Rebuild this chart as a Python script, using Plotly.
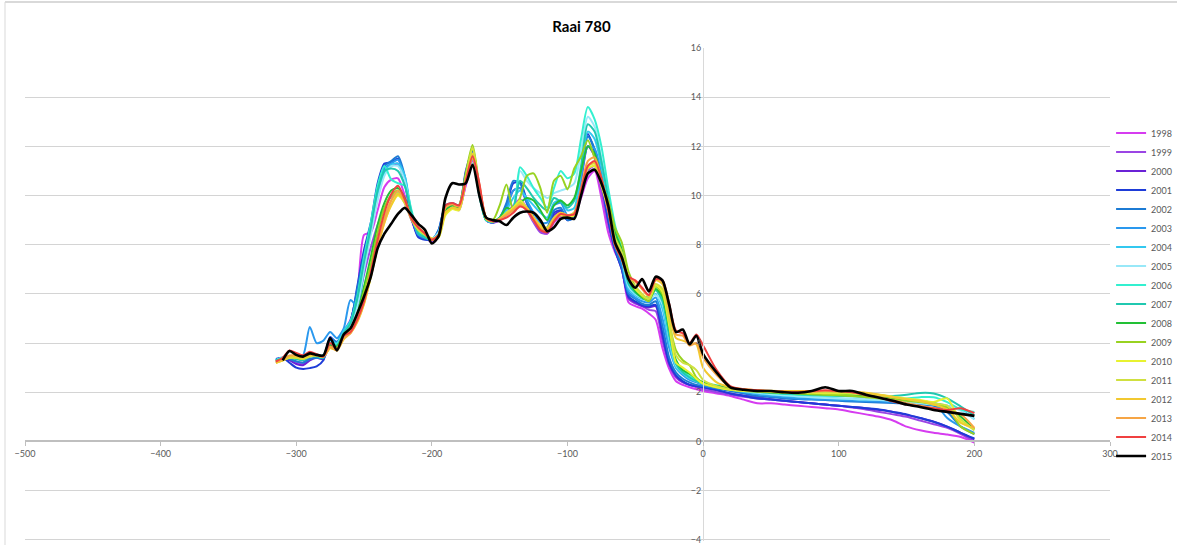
import plotly.graph_objects as go

# Shared distance positions (m)
x_pos = [-315, -310, -305, -300, -295, -290, -285, -280, -275, -270, -265, -260,
         -255, -250, -245, -240, -235, -230, -225, -220, -215, -210, -205, -200,
         -195, -190, -185, -180, -175, -170, -165, -160, -155, -150, -145, -140,
         -135, -130, -125, -120, -115, -110, -105, -100, -95, -90, -85, -80,
         -75, -70, -65, -60, -55, -50, -45, -40, -35, -30, -25, -20,
         -15, -10, -5, 0, 10, 20, 30, 40, 50, 60, 70, 80, 90, 100, 110, 120,
         130, 140, 150, 160, 170, 180, 190, 200]

years = ["1998", "1999", "2000", "2001", "2002", "2003", "2004", "2005", "2006",
         "2007", "2008", "2009", "2010", "2011", "2012", "2013", "2014", "2015"]

colors = ["#D63CF0", "#9B45E4", "#6A22D6", "#1E3CD8", "#1C7BD4", "#2A98EE",
          "#32C8F0", "#98E8F8", "#33F0D0", "#20C8B0", "#22C035", "#98D220",
          "#E8F230", "#D0E040", "#F2C830", "#F6A545", "#F04040", "#000000"]

y1998 = [3.2, 3.35, 3.4, 3.2, 3.15, 3.45, 3.5, 3.4, 3.85, 3.8, 4.45, 4.95,
         6.0, 8.4, 8.5, 9.4, 10.35, 10.65, 10.7, 10.0, 9.0, 8.4, 8.3, 8.1,
         8.45, 9.4, 9.6, 9.5, 10.4, 11.4, 10.3, 9.0, 8.9, 9.0, 9.3, 9.6,
         9.85, 9.5, 9.0, 8.55, 8.45, 8.9, 9.15, 9.1, 9.2, 9.9, 10.7, 11.0,
         9.9, 8.5, 7.7, 7.1, 5.65, 5.5, 5.4, 5.2, 4.95, 3.8, 2.95, 2.45,
         2.3, 2.2, 2.12, 2.05, 1.95, 1.85, 1.7, 1.55, 1.55, 1.5, 1.45, 1.4,
         1.35, 1.3, 1.2, 1.1, 1.0, 0.85, 0.6, 0.45, 0.35, 0.28, 0.18, -0.05]

y1999 = [3.25, 3.3, 3.35, 3.25, 3.2, 3.5, 3.5, 3.4, 3.9, 3.85, 4.4, 4.8,
         5.6, 6.8, 7.9, 8.8, 9.5, 9.95, 10.1, 9.7, 9.0, 8.5, 8.3, 8.15,
         8.4, 9.3, 9.5, 9.4, 10.5, 11.5, 10.2, 9.0, 8.9, 9.0, 9.2, 9.5,
         9.7, 9.4, 8.9, 8.5, 8.45, 8.95, 9.2, 9.1, 9.2, 10.0, 11.0, 11.2,
         10.2, 8.8, 7.8, 7.2, 5.8, 5.6, 5.5, 5.35, 5.3, 4.1, 3.1, 2.6,
         2.4, 2.3, 2.2, 2.12, 2.0, 1.9, 1.82, 1.75, 1.7, 1.65, 1.6, 1.55,
         1.5, 1.45, 1.38, 1.3, 1.2, 1.1, 1.0, 0.85, 0.7, 0.55, 0.3, 0.0]

y2000 = [3.3, 3.35, 3.3, 3.15, 3.1, 3.3, 3.4, 3.35, 4.0, 3.9, 4.4, 4.9,
         6.1, 7.6, 8.7, 10.0, 11.0, 11.2, 11.3, 10.5, 9.1, 8.35, 8.25, 8.2,
         8.55, 9.5, 9.6, 9.55, 10.8, 11.6, 10.2, 9.0, 8.9, 9.05, 9.5, 10.2,
         10.3, 9.7, 9.05, 8.6, 8.55, 9.2, 9.35, 9.0, 9.15, 10.6, 12.0, 11.6,
         10.5, 9.0, 7.8, 7.0, 5.85, 5.65, 5.5, 5.45, 5.5, 4.3, 3.15, 2.65,
         2.42, 2.3, 2.25, 2.2, 2.08, 1.95, 1.87, 1.8, 1.72, 1.65, 1.6, 1.55,
         1.5, 1.45, 1.4, 1.35, 1.28, 1.2, 1.08, 0.95, 0.8, 0.6, 0.35, 0.08]

y2001 = [3.35, 3.4, 3.2, 3.0, 2.95, 2.98, 3.05, 3.3, 4.25, 4.0, 4.45, 4.85,
         6.3, 7.8, 8.9, 10.5, 11.3, 11.35, 11.5, 10.6, 9.1, 8.3, 8.2, 8.2,
         8.6, 9.6, 9.65, 9.6, 11.0, 11.8, 10.2, 9.0, 8.9, 9.1, 9.6, 10.5,
         10.55, 9.8, 9.1, 8.65, 8.6, 9.3, 9.4, 9.0, 9.2, 10.9, 12.5, 11.8,
         10.6, 9.0, 7.8, 7.0, 5.9, 5.7, 5.55, 5.5, 5.55, 4.4, 3.2, 2.7,
         2.45, 2.3, 2.25, 2.2, 2.1, 1.95, 1.85, 1.75, 1.7, 1.65, 1.6, 1.55,
         1.5, 1.45, 1.4, 1.35, 1.3, 1.2, 1.1, 0.95, 0.8, 0.6, 0.35, 0.12]

y2002 = [3.3, 3.4, 3.35, 3.25, 3.2, 3.35, 3.4, 3.4, 4.2, 4.05, 4.5, 4.9,
         6.2, 7.6, 8.8, 10.3, 11.2, 11.4, 11.6, 10.8, 9.2, 8.4, 8.25, 8.2,
         8.6, 9.6, 9.7, 9.6, 10.9, 11.85, 10.3, 9.05, 8.9, 9.1, 9.7, 10.6,
         10.5, 9.7, 9.1, 8.7, 8.7, 9.4, 9.5, 9.0, 9.1, 10.8, 12.4, 11.9,
         10.7, 9.2, 7.9, 7.1, 6.0, 5.8, 5.6, 5.55, 5.7, 4.7, 3.4, 2.8,
         2.55, 2.4, 2.3, 2.25, 2.15, 2.05, 1.95, 1.85, 1.8, 1.75, 1.72, 1.7,
         1.68, 1.65, 1.62, 1.6, 1.58, 1.56, 1.55, 1.5, 1.45, 1.2, 0.6, 0.3]

y2003 = [3.3, 3.35, 3.4, 3.45, 3.5, 4.65, 4.0, 4.1, 4.45, 4.2, 4.6, 5.75,
         5.5, 7.0, 8.6, 10.2, 11.1, 11.3, 11.45, 10.7, 9.2, 8.4, 8.3, 8.25,
         8.5, 9.5, 9.6, 9.55, 10.8, 11.7, 10.2, 9.0, 8.9, 9.1, 9.5, 10.2,
         10.3, 9.8, 9.3, 8.9, 8.9, 9.6, 9.7, 9.2, 9.3, 10.7, 12.0, 11.9,
         10.9, 9.5, 8.1, 7.3, 6.1, 5.85, 5.7, 5.65, 5.85, 5.0, 3.8, 3.0,
         2.7, 2.5, 2.4, 2.3, 2.2, 2.1, 2.0, 1.92, 1.85, 1.8, 1.75, 1.72,
         1.7, 1.68, 1.66, 1.64, 1.62, 1.6, 1.58, 1.56, 1.58, 0.95, 0.6, 0.35]

y2004 = [3.3, 3.4, 3.45, 3.4, 3.35, 3.5, 3.5, 3.5, 4.1, 4.0, 4.5, 4.9,
         5.8, 7.3, 8.6, 10.0, 10.9, 11.25, 11.3, 10.8, 9.3, 8.5, 8.35, 8.25,
         8.5, 9.5, 9.6, 9.5, 10.7, 11.6, 10.1, 9.0, 8.95, 9.1, 9.4, 9.9,
         10.2, 9.9, 9.6, 9.3, 9.1, 9.7, 9.8, 9.4, 9.5, 11.0, 12.6, 12.3,
         11.2, 9.7, 8.3, 7.4, 6.2, 5.95, 5.8, 5.75, 6.0, 5.4, 4.0, 3.0,
         2.75, 2.55, 2.45, 2.35, 2.25, 2.12, 2.02, 1.95, 1.9, 1.85, 1.82, 1.8,
         1.78, 1.75, 1.72, 1.7, 1.68, 1.66, 1.64, 1.6, 1.55, 1.45, 1.3, 0.9]

y2005 = [3.3, 3.4, 3.45, 3.4, 3.35, 3.5, 3.5, 3.5, 4.0, 3.95, 4.4, 4.8,
         5.5, 7.0, 8.4, 9.8, 10.8, 11.2, 11.2, 10.6, 9.3, 8.5, 8.35, 8.25,
         8.5, 9.4, 9.6, 9.5, 10.6, 11.5, 10.1, 9.0, 8.95, 9.05, 9.3, 9.5,
         11.0, 10.6, 10.3, 10.1, 9.9, 10.1, 10.2, 10.3, 10.5, 11.8, 13.2, 12.8,
         11.5, 9.9, 8.5, 7.5, 6.3, 6.0, 5.85, 5.8, 5.95, 5.6, 4.2, 3.1,
         2.8, 2.6, 2.45, 2.35, 2.25, 2.15, 2.05, 1.98, 1.92, 1.88, 1.84, 1.8,
         1.77, 1.75, 1.72, 1.7, 1.68, 1.65, 1.6, 1.55, 1.5, 1.45, 1.25, 0.9]

y2006 = [3.3, 3.4, 3.45, 3.4, 3.35, 3.5, 3.5, 3.5, 4.0, 3.95, 4.4, 4.85,
         5.9, 7.5, 8.9, 10.4, 11.2, 10.65, 10.5, 10.4, 9.4, 8.5, 8.3, 8.2,
         8.4, 9.4, 9.6, 9.5, 10.6, 11.5, 10.0, 9.0, 8.95, 9.05, 9.3, 9.4,
         11.15, 10.8, 10.3, 9.9, 9.5, 10.3, 11.0, 10.7, 10.9, 12.3, 13.6, 13.1,
         12.0, 10.3, 8.8, 7.8, 6.5, 6.1, 5.9, 5.9, 6.2, 5.8, 4.4, 3.2,
         2.85, 2.65, 2.5, 2.4, 2.28, 2.18, 2.1, 2.02, 1.97, 1.93, 1.9, 1.88,
         1.86, 1.85, 1.84, 1.82, 1.8, 1.78, 1.75, 1.8, 1.8, 1.6, 1.3, 1.2]

y2007 = [3.3, 3.35, 3.4, 3.35, 3.3, 3.45, 3.45, 3.4, 3.95, 3.9, 4.4, 4.8,
         5.8, 7.3, 8.7, 10.2, 11.0, 11.1, 11.0, 10.4, 9.3, 8.45, 8.3, 8.2,
         8.4, 9.4, 9.6, 9.5, 10.6, 11.5, 10.0, 9.0, 8.95, 9.05, 9.3, 9.5,
         10.6, 10.3, 9.9, 9.6, 9.4, 9.9, 9.75, 9.5, 9.8, 11.2, 12.9, 12.6,
         11.4, 9.9, 8.5, 7.6, 6.4, 6.05, 5.9, 5.85, 6.15, 5.7, 4.3, 3.15,
         2.8, 2.6, 2.45, 2.35, 2.25, 2.15, 2.08, 2.02, 1.98, 1.95, 1.92, 1.9,
         1.88, 1.86, 1.84, 1.82, 1.82, 1.85, 1.9, 1.97, 1.95, 1.75, 1.42, 1.05]

y2008 = [3.25, 3.35, 3.45, 3.4, 3.35, 3.5, 3.5, 3.45, 3.9, 3.85, 4.3, 4.6,
         5.2, 6.3, 7.5, 8.8, 9.7, 10.2, 10.3, 9.9, 9.1, 8.6, 8.4, 8.2,
         8.4, 9.4, 9.6, 9.5, 10.7, 11.9, 10.3, 9.05, 8.95, 9.1, 9.5, 9.4,
         9.7, 9.9, 9.8, 9.4, 9.0, 9.6, 9.8, 9.6, 9.9, 11.0, 12.0, 11.7,
         10.7, 9.6, 8.5, 7.8, 6.6, 6.1, 5.85, 5.75, 6.2, 5.9, 4.6, 3.3,
         2.9, 2.75, 2.55, 2.4, 2.25, 2.15, 2.1, 2.05, 2.0, 1.98, 1.95, 1.93,
         1.92, 1.9, 1.88, 1.85, 1.8, 1.75, 1.7, 1.65, 1.55, 1.4, 1.0, 0.5]

y2009 = [3.25, 3.35, 3.45, 3.45, 3.4, 3.5, 3.5, 3.45, 3.85, 3.8, 4.3, 4.55,
         5.1, 6.1, 7.2, 8.5, 9.5, 10.0, 10.2, 9.8, 9.1, 8.6, 8.4, 8.2,
         8.4, 9.3, 9.5, 9.6, 10.9, 12.05, 10.4, 9.1, 9.0, 9.6, 10.45, 9.4,
         9.9, 10.8, 10.9, 10.3, 9.3, 10.6, 10.8, 10.25, 11.1, 11.6, 12.25, 11.5,
         10.5, 9.8, 8.7, 8.1, 6.9, 6.3, 5.9, 5.7, 6.3, 6.0, 4.8, 3.7,
         3.3, 3.1, 2.6, 2.35, 2.2, 2.1, 2.05, 2.02, 2.0, 1.98, 1.95, 1.92,
         1.9, 1.88, 1.85, 1.8, 1.75, 1.7, 1.65, 1.6, 1.5, 1.35, 0.6, 0.3]

y2010 = [3.2, 3.3, 3.4, 3.4, 3.35, 3.45, 3.5, 3.45, 3.8, 3.75, 4.2, 4.45,
         4.9, 5.6, 6.7, 7.9, 8.9, 9.6, 10.0, 9.7, 9.1, 8.7, 8.45, 8.25,
         8.3, 9.2, 9.45, 9.4, 10.6, 11.9, 10.3, 9.05, 8.95, 9.05, 9.3, 9.5,
         9.8, 9.5, 9.0, 8.7, 8.65, 9.0, 9.2, 9.1, 9.2, 10.1, 11.1, 11.2,
         10.4, 9.4, 8.2, 7.6, 6.6, 6.2, 5.95, 5.8, 6.35, 6.1, 4.7, 3.2,
         3.0, 2.8, 2.55, 2.35, 2.2, 2.1, 2.05, 2.05, 2.02, 2.0, 1.98, 1.98,
         1.96, 1.95, 1.95, 1.92, 1.88, 1.82, 1.75, 1.68, 1.6, 1.75, 0.8, 0.5]

y2011 = [3.2, 3.3, 3.4, 3.4, 3.35, 3.5, 3.5, 3.45, 3.8, 3.75, 4.2, 4.5,
         5.0, 5.8, 6.9, 8.1, 9.1, 9.8, 10.1, 9.7, 9.0, 8.6, 8.4, 8.2,
         8.3, 9.3, 9.5, 9.45, 10.7, 11.95, 10.3, 9.05, 8.95, 9.05, 9.3, 9.45,
         9.7, 9.5, 9.1, 8.8, 8.7, 9.1, 9.3, 9.15, 9.3, 10.2, 11.2, 11.3,
         10.5, 9.5, 8.3, 7.7, 6.65, 6.3, 6.0, 5.8, 6.4, 6.2, 4.9, 3.5,
         3.2, 3.1, 2.9, 2.5, 2.25, 2.12, 2.08, 2.06, 2.04, 2.02, 2.0, 2.0,
         2.0, 2.0, 1.98, 1.95, 1.9, 1.82, 1.72, 1.62, 1.55, 1.45, 0.9, 0.45]

y2012 = [3.2, 3.3, 3.45, 3.45, 3.4, 3.5, 3.5, 3.45, 3.8, 3.7, 4.15, 4.4,
         4.85, 5.6, 6.7, 7.9, 8.9, 9.6, 10.05, 9.75, 9.1, 8.7, 8.45, 8.25,
         8.35, 9.3, 9.5, 9.45, 10.6, 11.7, 10.4, 9.1, 8.95, 9.05, 9.25, 9.45,
         9.65, 9.5, 9.1, 8.75, 8.65, 9.05, 9.3, 9.2, 9.3, 10.2, 11.2, 11.35,
         10.6, 9.5, 8.1, 7.5, 6.7, 6.5, 6.2, 5.9, 6.55, 6.4, 5.2, 4.2,
         4.1, 4.0, 3.95, 3.0, 2.4, 2.2, 2.12, 2.08, 2.06, 2.05, 2.05, 2.05,
         2.05, 2.05, 2.02, 1.98, 1.9, 1.8, 1.72, 1.65, 1.5, 1.3, 0.75, 0.55]

y2013 = [3.25, 3.35, 3.5, 3.5, 3.45, 3.55, 3.5, 3.45, 3.85, 3.7, 4.2, 4.4,
         4.9, 5.65, 6.8, 8.0, 9.0, 9.8, 10.2, 9.8, 9.1, 8.7, 8.45, 8.2,
         8.4, 9.5, 9.65, 9.55, 10.6, 11.5, 10.45, 9.1, 8.95, 9.05, 9.2, 9.4,
         9.6, 9.4, 9.0, 8.65, 8.55, 9.0, 9.25, 9.2, 9.25, 10.3, 11.4, 11.55,
         10.7, 9.5, 8.0, 7.4, 6.65, 6.5, 6.2, 5.95, 6.6, 6.5, 5.4, 4.35,
         4.3, 3.9, 4.0, 3.4, 2.7, 2.22, 2.12, 2.08, 2.05, 2.02, 2.0, 2.02,
         2.05, 2.03, 2.0, 1.9, 1.8, 1.68, 1.55, 1.45, 1.35, 1.25, 1.1, 0.55]

y2014 = [3.25, 3.4, 3.7, 3.6, 3.5, 3.65, 3.55, 3.45, 4.0, 3.75, 4.3, 4.45,
         4.95, 5.7, 6.9, 8.2, 9.3, 10.05, 10.4, 9.85, 9.05, 8.7, 8.45, 8.2,
         8.4, 9.6, 9.7, 9.6, 10.6, 11.6, 10.5, 9.1, 8.95, 9.0, 9.1, 9.3,
         9.55, 9.4, 9.0, 8.6, 8.5, 8.95, 9.25, 9.2, 9.25, 10.2, 11.2, 11.4,
         10.7, 9.4, 8.0, 7.4, 6.7, 6.55, 6.25, 5.95, 6.6, 6.55, 5.6, 4.5,
         4.4, 4.0, 4.35, 3.9, 2.9, 2.25, 2.12, 2.08, 2.05, 2.02, 2.0, 2.05,
         2.08, 2.05, 2.0, 1.88, 1.78, 1.62, 1.5, 1.42, 1.35, 1.28, 1.35, 1.15]

y2015 = [None, 3.3, 3.68, 3.52, 3.45, 3.58, 3.52, 3.5, 4.2, 3.7, 4.35, 4.6,
         5.2, 5.9, 6.7, 7.85, 8.45, 8.85, 9.25, 9.5, 9.2, 8.85, 8.6, 8.05,
         8.35, 9.9, 10.5, 10.45, 10.5, 11.25, 10.0, 9.1, 9.0, 8.95, 8.8, 9.1,
         9.3, 9.35, 9.3, 9.0, 8.55, 8.7, 9.05, 9.1, 9.05, 10.0, 10.9, 11.05,
         10.5, 9.6, 8.1, 7.5, 6.6, 6.25, 6.6, 6.1, 6.7, 6.55, 5.55, 4.45,
         4.55, 3.95, 4.3, 3.55, 2.8, 2.2, 2.1, 2.05, 2.05, 2.0, 1.98, 2.05,
         2.2, 2.05, 2.05, 1.9, 1.78, 1.65, 1.5, 1.4, 1.28, 1.2, 1.12, 1.04]

series = [y1998, y1999, y2000, y2001, y2002, y2003, y2004, y2005, y2006,
          y2007, y2008, y2009, y2010, y2011, y2012, y2013, y2014, y2015]

x_ticks = [-500, -400, -300, -200, -100, 0, 100, 200, 300]
y_ticks = [-4, -2, 0, 2, 4, 6, 8, 10, 12, 14, 16]

for name, s in zip(years, series):
    if len(s) != len(x_pos):
        raise ValueError(f"{name}: {len(s)} values vs {len(x_pos)} positions")

fig = go.Figure()
for name, col, s in zip(years, colors, series):
    fig.add_trace(go.Scatter(
        x=x_pos, y=s, name=name, mode="lines",
        line=dict(color=col, width=2.6 if name == "2015" else 2,
                  shape="spline", smoothing=0.7),
    ))

font_family = "Lato, 'Open Sans', sans-serif"
tick_font = dict(family=font_family, size=9, color="#595959")

fig.update_layout(
    width=1177, height=545,
    margin=dict(l=25, r=67, t=48, b=4, autoexpand=False),
    paper_bgcolor="white", plot_bgcolor="white",
    title=dict(text="<b>Raai 780</b>", x=0.494, xanchor="center",
               y=1 - 27 / 545, yanchor="middle",
               font=dict(family=font_family, size=15, color="#000000")),
    xaxis=dict(range=[-500, 300], tickvals=x_ticks,
               showgrid=False, zeroline=False,
               showline=True, linecolor="#bfbfbf", linewidth=1.5,
               ticks="outside", ticklen=4, tickcolor="#bfbfbf",
               tickfont=tick_font, anchor="free", position=4.05 / 20.05),
    yaxis=dict(range=[-4.05, 16], tickvals=y_ticks,
               showgrid=True, gridcolor="#d4d4d4", gridwidth=1.3,
               zeroline=False, showline=True, linecolor="#d9d9d9", linewidth=1,
               ticks="", tickfont=tick_font, anchor="free", position=0.625),
    legend=dict(x=1.001, y=0.5, xanchor="left", yanchor="middle",
                font=dict(family=font_family, size=9, color="#595959"),
                bgcolor="rgba(0,0,0,0)", itemwidth=30),
    shapes=[
        dict(type="line", xref="paper", yref="paper",
             x0=(5 - 25) / 1085, x1=1.1, y0=1 + 46 / 493, y1=1 + 46 / 493,
             line=dict(color="#d9d9d9", width=2)),
        dict(type="line", xref="paper", yref="paper",
             x0=(5 - 25) / 1085, x1=(5 - 25) / 1085, y0=-0.02, y1=1 + 46 / 493,
             line=dict(color="#d9d9d9", width=1)),
    ],
)

fig.write_html("out.html", config={"displayModeBar": False},
               post_script="document.body.style.margin='0';")
